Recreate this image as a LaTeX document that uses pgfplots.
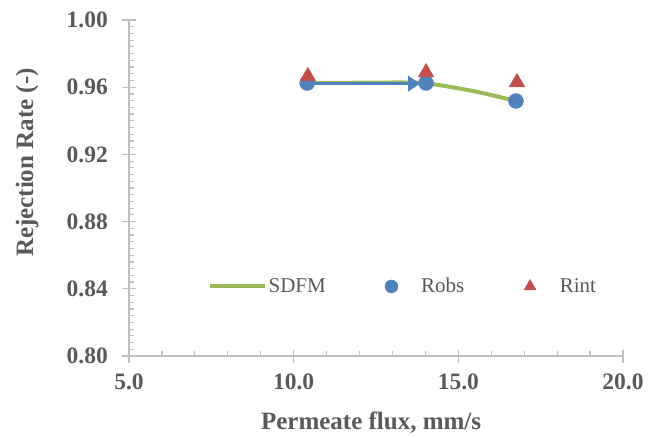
\documentclass[border=0pt]{standalone}
\usepackage{pgfplots}
\pgfplotsset{compat=1.18}
\usepackage{fontspec}
\setmainfont{Liberation Serif}
\usetikzlibrary{arrows.meta}
\definecolor{sgreen}{HTML}{9BBB59}
\definecolor{sblue}{HTML}{4F81BD}
\definecolor{sred}{HTML}{C0504D}
\definecolor{txt}{HTML}{595959}
\definecolor{axc}{HTML}{BFBFBF}
\pgfplotsset{
  lineleg/.style={legend image code/.code={\draw[##1] (0pt,0pt) -- (55pt,0pt);}},
  circleg/.style={legend image code/.code={\path (0pt,0pt) (55pt,0pt); \draw[##1, mark size=6.5pt] plot coordinates {(27.5pt,0pt)};}},
  trileg/.style={legend image code/.code={\path (0pt,0pt) (55pt,0pt); \draw[##1, mark size=7pt] plot coordinates {(27.5pt,0pt)};}},
}
\begin{document}
\begin{tikzpicture}
\begin{axis}[
  scale only axis, width=494pt, height=336pt,
  xmin=5, xmax=20, ymin=0.80, ymax=1.00,
  xtick={5,10,15,20}, ytick={0.80,0.84,0.88,0.92,0.96,1.00},
  minor x tick num=4, minor y tick num=9,
  axis x line*=bottom, axis y line*=left,
  axis line style={axc, line width=1.2pt, -},
  tick style={axc, line width=1.2pt},
  tick align=inside,
  major tick length=13pt, minor tick length=5pt,
  every major x tick/.append style={yshift=-6.5pt},
  every major y tick/.append style={xshift=-6.5pt},
  x tick label style={/pgf/number format/fixed, /pgf/number format/fixed zerofill, /pgf/number format/precision=1},
  y tick label style={/pgf/number format/fixed, /pgf/number format/fixed zerofill, /pgf/number format/precision=2},
  /pgf/number format/assume math mode=true,
  ticklabel style={font=\fontsize{23.5}{26}\selectfont\bfseries, text=txt},
  x tick label style={anchor=base, yshift=-33pt},
  y tick label style={anchor=east, inner sep=0pt, xshift=-21pt},
  xlabel={Permeate flux, mm/s}, ylabel={Rejection Rate (-)},
  label style={font=\fontsize{25}{28}\selectfont\bfseries, text=txt},
  xlabel style={at={(axis description cs:0.49,-0.2196)}, anchor=base},
  ylabel style={at={(axis description cs:-0.206,0.5757)}, anchor=center},
  legend columns=3,
  legend style={draw=none, fill=none, inner sep=0pt, at={(axis cs:7.38,0.8414)}, anchor=west,
    font=\fontsize{21}{24}\selectfont, text=txt,
    nodes={inner xsep=2pt, inner ysep=1pt},
    /tikz/every even column/.append style={column sep=36pt}},
  legend cell align=left,
]
\addplot[sgreen, line width=4pt, smooth, tension=0.5, lineleg] coordinates {
(10.41,0.9625) (12.3,0.9627) (13.4,0.9628) (14.1,0.9622) (15.5,0.9575) (16.75,0.9518)};
\addlegendentry{SDFM}
\addplot[sblue, line width=3pt, -{Triangle[length=12pt,width=15pt]}, forget plot] coordinates {(10.41,0.9621) (13.84,0.9621)};
\addplot[only marks, mark=*, mark size=7.5pt, mark options={draw=sblue, fill=sblue}, circleg] coordinates {
(10.41,0.9625) (14.02,0.9625) (16.75,0.9518)};
\addlegendentry{Robs}
\addplot[only marks, mark=triangle*, mark size=9pt, mark options={draw=sred, fill=sred}, trileg] coordinates {
(10.43,0.9665) (14.02,0.9688) (16.78,0.9629)};
\addlegendentry{Rint}
\end{axis}
\pgfresetboundingbox
\path (-129pt,-81pt) rectangle (529pt,356pt);
\end{tikzpicture}
\end{document}
